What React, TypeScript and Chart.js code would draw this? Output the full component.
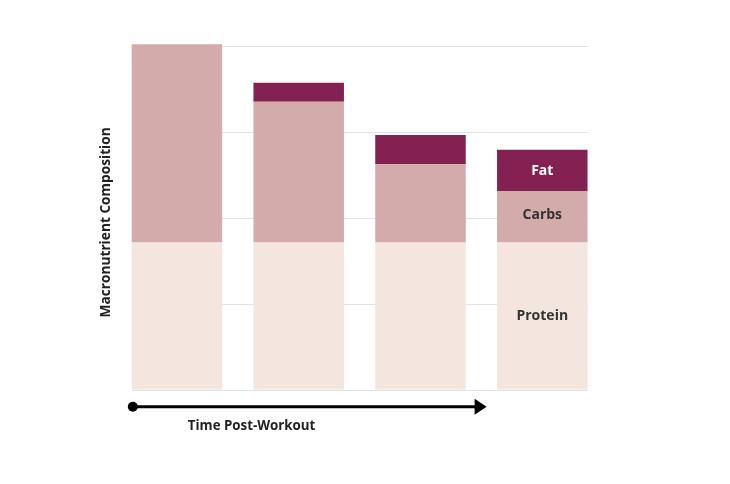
import React, { useEffect, useRef } from "react";
import { Chart, registerables } from "chart.js";

Chart.register(...registerables);

const timePoints = [0, 1, 2, 3];
const protein = [172, 172, 172, 172];
const carbs = [231, 164, 91, 60];
const fat = [0, 22, 34, 48];
const seriesNames = ["Protein", "Carbs", "Fat"];
const yTicks = [0, 100, 200, 300, 400];
const xTitle = "Time Post-Workout";
const yTitle = "Macronutrient Composition";

const FONT = "'Open Sans', Lato, sans-serif";

const overlayPlugin = {
  id: "overlay",
  afterDatasetsDraw(chart: any) {
    const { ctx, chartArea } = chart;
    ctx.save();
    // labels in the last bar
    const last = timePoints.length - 1;
    const labelColors = ["#333333", "#333333", "#ffffff"];
    const labelShift = [0, -2, 1];
    chart.data.datasets.forEach((ds: any, di: number) => {
      const el = chart.getDatasetMeta(di).data[last];
      if (!el) return;
      const cy = (el.y + el.base) / 2 + labelShift[di];
      ctx.fillStyle = labelColors[di];
      ctx.font = `bold 14px ${FONT}`;
      ctx.textAlign = "center";
      ctx.textBaseline = "middle";
      ctx.fillText(seriesNames[di], el.x, cy);
    });

    // y title
    ctx.save();
    ctx.translate(chartArea.left - 25, (chartArea.top + chartArea.bottom) / 2 + 4);
    ctx.rotate(-Math.PI / 2);
    ctx.fillStyle = "#222222";
    ctx.font = `bold 13.7px ${FONT}`;
    ctx.textAlign = "center";
    ctx.textBaseline = "middle";
    ctx.fillText(yTitle, 0, 0);
    ctx.restore();

    // arrow
    const ay = chartArea.bottom + 16.7;
    const x0 = chartArea.left + 1.2;
    const x1 = chartArea.left + 355;
    ctx.strokeStyle = "#000000";
    ctx.fillStyle = "#000000";
    ctx.lineWidth = 3;
    ctx.beginPath();
    ctx.moveTo(x0, ay);
    ctx.lineTo(x1 - 10, ay);
    ctx.stroke();
    ctx.beginPath();
    ctx.arc(x0, ay, 5, 0, Math.PI * 2);
    ctx.fill();
    ctx.beginPath();
    ctx.moveTo(x1 - 12, ay - 8);
    ctx.lineTo(x1, ay);
    ctx.lineTo(x1 - 12, ay + 8);
    ctx.closePath();
    ctx.fill();

    // x title
    ctx.fillStyle = "#222222";
    ctx.font = `bold 13.3px ${FONT}`;
    ctx.textAlign = "center";
    ctx.textBaseline = "middle";
    ctx.fillText(xTitle, chartArea.left + 120, chartArea.bottom + 36);
    ctx.restore();
  },
};

export default function App() {
  const ref = useRef<HTMLCanvasElement | null>(null);
  useEffect(() => {
    if (!ref.current) return;
    const mk = (vals: number[]) => vals.map((v, i) => ({ x: timePoints[i], y: v }));
    const chart = new Chart(ref.current, {
      type: "bar",
      data: {
        datasets: [
          { label: seriesNames[0], data: mk(protein), backgroundColor: "#f5e5df", stack: "s", clip: false as any },
          { label: seriesNames[1], data: mk(carbs), backgroundColor: "#d3abaa", stack: "s", clip: false as any },
          { label: seriesNames[2], data: mk(fat), backgroundColor: "#832252", stack: "s", clip: false as any },
        ],
      },
      options: {
        animation: false,
        responsive: false,
        devicePixelRatio: 1,
        datasets: { bar: { categoryPercentage: 1, barPercentage: 0.743 } } as any,
        layout: { padding: { left: 131.6, right: 142.4, top: 46.7, bottom: 94 } },
        plugins: { legend: { display: false }, tooltip: { enabled: false } },
        scales: {
          x: {
            type: "linear",
            min: -0.372,
            max: 3.372,
            offset: false,
            grid: { offset: false },
            afterBuildTicks: (axis: any) => {
              axis.ticks = timePoints.map((v) => ({ value: v }));
            },
            display: false,
          },
          y: {
            stacked: true,
            min: 0,
            max: 400,
            afterBuildTicks: (axis: any) => {
              axis.ticks = yTicks.map((v) => ({ value: v }));
            },
            ticks: { display: false },
            border: { display: false },
            grid: { color: "#e2e2e2", lineWidth: 1, drawTicks: false },
          },
        },
      },
      plugins: [overlayPlugin],
    });
    return () => chart.destroy();
  }, []);
  return (
    <div style={{ position: "fixed", left: 0, top: 0, width: 730, height: 484, background: "#ffffff" }}>
      <canvas ref={ref} width={730} height={484} style={{ width: 730, height: 484, display: "block" }} />
    </div>
  );
}
